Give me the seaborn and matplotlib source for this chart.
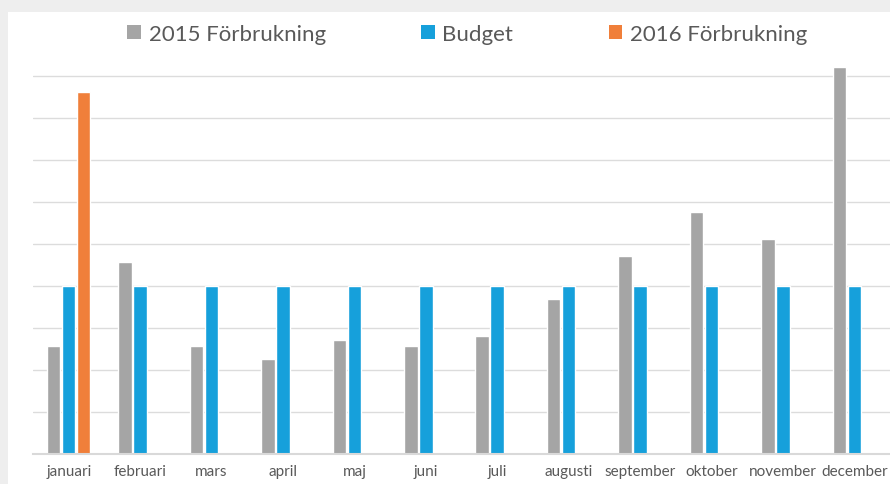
import numpy as np
import pandas as pd
import matplotlib.pyplot as plt
import seaborn as sns
from matplotlib.patches import Patch, Rectangle

# data (one gridline = 1 unit)
months = ['januari', 'februari', 'mars', 'april', 'maj', 'juni', 'juli',
          'augusti', 'september', 'oktober', 'november', 'december']
series = ['2015 Förbrukning', 'Budget', '2016 Förbrukning']
forbr_2015 = [2.57, 4.57, 2.57, 2.26, 2.71, 2.57, 2.81, 3.69, 4.71, 5.76, 5.12, 9.21]
budget = [4.0] * 12
forbr_2016 = [8.62] + [np.nan] * 11
colors = ['#A5A5A5', '#16A0DB', '#F07F3A']

df = pd.DataFrame({'month': months * 3,
                   'series': np.repeat(series, 12),
                   'value': forbr_2015 + budget + forbr_2016})

sns.set_style('white')
plt.rcParams['font.family'] = ['Lato', 'DejaVu Sans']

fig = plt.figure(figsize=(8.9, 4.85), dpi=100, facecolor='#eeeeee')
fig.patches.append(Rectangle((8 / 890, 0), 1, 1 - 13 / 485, transform=fig.transFigure,
                             facecolor='white', edgecolor='none', zorder=-5))
ax = fig.add_axes([33 / 890, 30 / 485, 1 - 33 / 890, (455 - 66.5) / 485])
ax.set_facecolor('none')
ax.set_zorder(2)

sns.barplot(data=df, x='month', y='value', hue='series', hue_order=series,
            palette=colors, saturation=1, width=0.63, gap=0.1,
            errorbar=None, legend=False, ax=ax)

ax.set_xlim(-0.5, 11.5)
ax.set_ylim(0, 9.25)
ax.set_yticks(range(0, 10))
ax.yaxis.grid(True, color='#dcdcdc', lw=1)
ax.set_axisbelow(True)
ax.tick_params(axis='y', left=False, labelleft=False)
ax.tick_params(axis='x', bottom=False, labelsize=11, labelcolor='#595959', pad=4)
for s in ['top', 'right', 'left']:
    ax.spines[s].set_visible(False)
ax.spines['bottom'].set_color('#d9d9d9')
ax.spines['bottom'].set_linewidth(1.5)
ax.set_xlabel('')
ax.set_ylabel('')
for p in ax.patches:
    p.set_clip_on(False)

handles = [Patch(facecolor=c, edgecolor='none') for c in colors]
fig.legend(handles, series, loc='center', bbox_to_anchor=(0.525, 1 - 35 / 485),
           ncol=3, frameon=False, fontsize=16, labelcolor='#595959',
           handlelength=0.6, handleheight=0.6, handletextpad=0.35, columnspacing=4.3)

fig.savefig('out.png', dpi=100, facecolor=fig.get_facecolor())
